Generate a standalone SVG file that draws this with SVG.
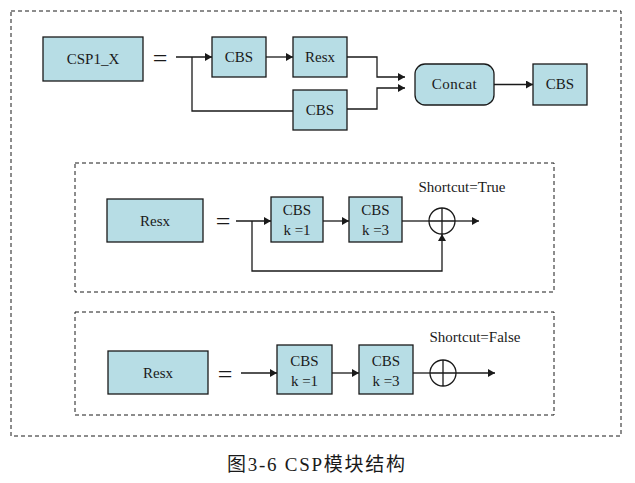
<svg xmlns="http://www.w3.org/2000/svg" width="635" height="483" viewBox="0 0 635 483">
<style>
.box{fill:#b7dde5;stroke:#1a1a1a;stroke-width:1.3}
.dash{fill:none;stroke:#1a1a1a;stroke-width:1;stroke-dasharray:4 3}
.ln{fill:none;stroke:#1a1a1a;stroke-width:1.3}
text{font-family:"Liberation Serif","Times New Roman",Times,"DejaVu Serif","Noto Sans CJK SC",serif;fill:#1a1a1a;text-anchor:middle}
.t{font-size:15px}
.s{font-size:15px}
.eq{font-size:26px}
.cap{font-size:19px}
</style>
<defs>
<marker id="ah" markerWidth="8" markerHeight="8" refX="7" refY="4" orient="auto" markerUnits="userSpaceOnUse">
<path d="M0,0 L7,4 L0,8 Z" fill="#1a1a1a"/>
</marker>
</defs>
<rect class="dash" x="11" y="11" width="610" height="425"/>
<rect class="dash" x="75" y="163" width="479" height="129"/>
<rect class="dash" x="75" y="312" width="479" height="103"/>

<g id="csp1x"><rect class="box" x="43" y="37" width="100" height="44"/><text class="t" x="93" y="64">CSP1_X</text></g>
<text class="eq" x="160" y="67">=</text>
<g id="cbs1"><rect class="box" x="212" y="37" width="54" height="40"/><text class="t" x="239" y="62">CBS</text></g>
<g id="resx1"><rect class="box" x="293" y="37" width="54" height="40"/><text class="t" x="320" y="62">Resx</text></g>
<g id="cbs2"><rect class="box" x="293" y="90" width="54" height="40"/><text class="t" x="320" y="115">CBS</text></g>
<g id="concat"><rect class="box" x="415" y="64" width="79" height="41" rx="10"/><text class="t" x="454.5" y="89" letter-spacing="0.5">Concat</text></g>
<g id="cbs3"><rect class="box" x="533" y="64" width="54" height="41"/><text class="t" x="560" y="89">CBS</text></g>

<g id="resx2"><rect class="box" x="107" y="199" width="96" height="43"/><text class="t" x="155" y="226">Resx</text></g>
<text class="eq" x="223" y="230">=</text>
<g id="cbs4"><rect class="box" x="271" y="197" width="52" height="45"/><text class="t" x="297" y="215">CBS</text><text class="t" x="297" y="235">k =1</text></g>
<g id="cbs5"><rect class="box" x="349" y="197" width="53" height="45"/><text class="t" x="375.5" y="215">CBS</text><text class="t" x="375.5" y="235">k =3</text></g>
<g id="add1"><circle class="ln" cx="442" cy="221" r="13"/><path class="ln" d="M429,221 H455 M442,208 V234"/></g>
<text class="s" x="462" y="192">Shortcut=True</text>

<g id="resx3"><rect class="box" x="108" y="351" width="100" height="43"/><text class="t" x="158" y="378">Resx</text></g>
<text class="eq" x="225" y="383">=</text>
<g id="cbs6"><rect class="box" x="277" y="345" width="55" height="49"/><text class="t" x="304.5" y="366">CBS</text><text class="t" x="304.5" y="386">k =1</text></g>
<g id="cbs7"><rect class="box" x="359" y="345" width="54" height="49"/><text class="t" x="386" y="366">CBS</text><text class="t" x="386" y="386">k =3</text></g>
<g id="add2"><circle class="ln" cx="443" cy="373" r="13"/><path class="ln" d="M430,373 H456 M443,360 V386"/></g>
<text class="s" x="475" y="342">Shortcut=False</text>

<g id="connectors">
<path class="ln" d="M176,57 H212" marker-end="url(#ah)"/>
<path class="ln" d="M192,57 V111 H293"/>
<path class="ln" d="M266,57 H293" marker-end="url(#ah)"/>
<path class="ln" d="M347,57 H377 V77 H405" marker-end="url(#ah)"/>
<path class="ln" d="M347,109 H377 V88 H405" marker-end="url(#ah)"/>
<path class="ln" d="M494,84.5 H533" marker-end="url(#ah)"/>

<path class="ln" d="M236,221 H271" marker-end="url(#ah)"/>
<path class="ln" d="M252,221 V271 H442 V234" marker-end="url(#ah)"/>
<path class="ln" d="M323,221 H349" marker-end="url(#ah)"/>
<path class="ln" d="M402,221 H429"/>
<path class="ln" d="M455,221 H479" marker-end="url(#ah)"/>

<path class="ln" d="M241,373 H277" marker-end="url(#ah)"/>
<path class="ln" d="M332,373 H359" marker-end="url(#ah)"/>
<path class="ln" d="M413,373 H430"/>
<path class="ln" d="M456,373 H495" marker-end="url(#ah)"/>
</g>
<text class="cap" x="316" y="471" textLength="178" lengthAdjust="spacing">图3-6 CSP模块结构</text>
</svg>
